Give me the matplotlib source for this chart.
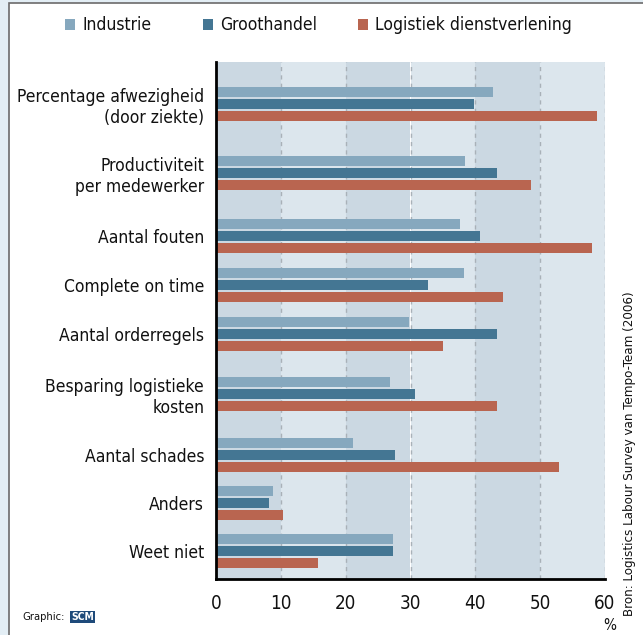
import numpy as np
import matplotlib.pyplot as plt
from matplotlib import font_manager as fm
from matplotlib.patches import Rectangle

# pick a narrow font if one is installed, otherwise a smaller Helvetica-like one
names = {f.name for f in fm.fontManager.ttflist}
narrow = [f for f in fm.fontManager.ttflist
          if "Narrow" in f.name or "Condensed" in f.name
          or (f.name == "DejaVu Sans" and str(f.stretch) in ("condensed", "semi-condensed"))]
if "Liberation Sans Narrow" in names:
    family, stretch, fs = "Liberation Sans Narrow", "normal", 12.5
elif narrow:
    family, stretch, fs = narrow[0].name, narrow[0].stretch, 12
else:
    family, stretch, fs = "Liberation Sans", "normal", 11
plt.rcParams['font.family'] = [family, 'DejaVu Sans']
plt.rcParams['font.stretch'] = stretch

categories = [
    "Percentage afwezigheid\n(door ziekte)",
    "Productiviteit\nper medewerker",
    "Aantal fouten",
    "Complete on time",
    "Aantal orderregels",
    "Besparing logistieke\nkosten",
    "Aantal schades",
    "Anders",
    "Weet niet",
]
series = ["Industrie", "Groothandel", "Logistiek dienstverlening"]
industrie = [42.7, 38.4, 37.6, 38.3, 29.8, 26.8, 21.1, 8.8, 27.3]
groothandel = [39.8, 43.4, 40.7, 32.7, 43.3, 30.7, 27.6, 8.2, 27.3]
logistiek = [58.8, 48.6, 58.0, 44.3, 35.0, 43.4, 52.9, 10.3, 15.7]
xticks = [0, 10, 20, 30, 40, 50, 60]

colors = ["#86a8be", "#447693", "#b96550"]
band_dark = "#cbd8e2"
band_light = "#dce6ed"

# row centres in layout units (two-line labels get more room)
row_pos = [42, 110.7, 174, 223, 272, 332, 393, 441, 489]
bar_step = 12
bar_h = 10

fig = plt.figure(figsize=(6.43, 6.35), dpi=100)

# panel frame
fig.patches.append(Rectangle((0, 0), 1, 1, transform=fig.transFigure,
                             facecolor="#e3eef5", edgecolor="none", zorder=-3))
fig.patches.append(Rectangle((9 / 643, -0.01), 1, (632 / 635) + 0.01,
                             transform=fig.transFigure, facecolor="white",
                             edgecolor="#6b6b6b", linewidth=1.2, zorder=-2))

ax = fig.add_axes([216 / 643, 56 / 635, 389 / 643, 517 / 635])
ax.set_xlim(0, 60)
ax.set_ylim(517, 0)

for i in range(6):
    ax.axvspan(i * 10, (i + 1) * 10, color=band_dark if i % 2 == 0 else band_light,
               zorder=0, linewidth=0)
for x in xticks[1:]:
    ax.axvline(x, color="#a9b1b8", linestyle=(0, (3, 3)), linewidth=1, zorder=1)

for k, vals in enumerate([industrie, groothandel, logistiek]):
    ys = [p + (k - 1) * bar_step for p in row_pos]
    ax.barh(ys, vals, height=bar_h, color=colors[k], zorder=2, label=series[k])

ax.set_yticks(row_pos)
ax.set_yticklabels(categories, fontsize=fs + 0.5, color="#111111", linespacing=1.2)
ax.tick_params(axis="y", length=0, pad=8.5)
ax.set_xticks(xticks)
ax.set_xticklabels([str(t) for t in xticks], fontsize=fs + 1.5, color="#111111")
ax.tick_params(axis="x", length=0, pad=11)

for s in ["top", "right"]:
    ax.spines[s].set_visible(False)
ax.spines["left"].set_linewidth(2)
ax.spines["bottom"].set_linewidth(2)
ax.spines["left"].set_color("black")
ax.spines["bottom"].set_color("black")

# legend
leg_x = [65, 203, 358]
for k, name in enumerate(series):
    fig.patches.append(Rectangle((leg_x[k] / 643, (635 - 30) / 635), 10 / 643, 11 / 635,
                                 transform=fig.transFigure, facecolor=colors[k],
                                 edgecolor="none"))
    fig.text((leg_x[k] + 17) / 643, (635 - 24.5) / 635, name, fontsize=fs + 0.5,
             va="center", ha="left", color="#111111")

fig.text(610 / 643, (635 - 625) / 635, "%", fontsize=fs - 1, ha="center", va="center",
         color="#111111")
fig.text(22 / 643, (635 - 617) / 635, "Graphic:", fontsize=8, ha="left",
         va="center", color="#111111")
fig.text(71 / 643, (635 - 617) / 635, "SCM", fontsize=7.5, ha="left", va="center",
         color="white", fontweight="bold",
         bbox=dict(boxstyle="square,pad=0.1", facecolor="#1e4a7a", edgecolor="none"))
fig.text(630 / 643, (635 - 454) / 635,
         "Bron: Logistics Labour Survey van Tempo-Team (2006)",
         fontsize=fs - 2.5, rotation=90, ha="center", va="center", color="#111111")

fig.savefig("out.png", dpi=100)
